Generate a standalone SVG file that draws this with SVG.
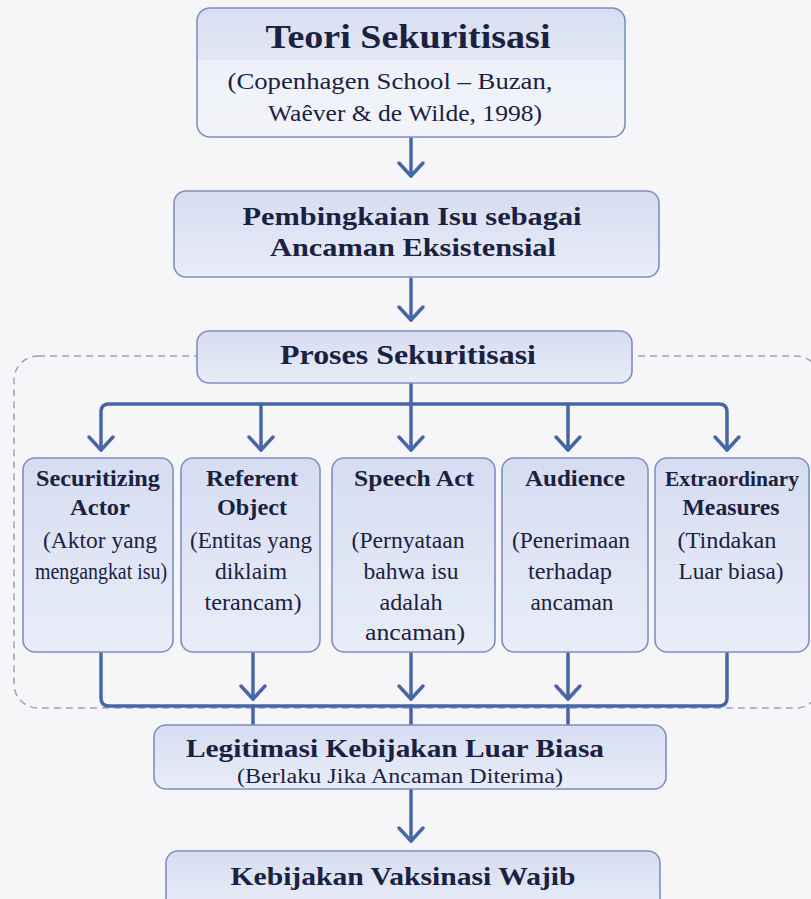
<svg xmlns="http://www.w3.org/2000/svg" width="811" height="899" viewBox="0 0 811 899">
<defs>
<linearGradient id="g" x1="0" y1="0" x2="0" y2="1">
<stop offset="0" stop-color="#d6ddf1"/>
<stop offset="1" stop-color="#e9edf8"/>
</linearGradient>
<linearGradient id="gt" x1="0" y1="0" x2="0" y2="1">
<stop offset="0" stop-color="#d8def1"/>
<stop offset="0.4" stop-color="#e2e7f5"/>
<stop offset="0.41" stop-color="#eff1f9"/>
<stop offset="1" stop-color="#f2f4fa"/>
</linearGradient>
<marker id="ah" markerUnits="userSpaceOnUse" markerWidth="30" markerHeight="30" refX="0" refY="0" orient="auto-start-reverse" overflow="visible">
<path d="M-13,-12 L0,0 L-13,12" fill="none" stroke="#4866a6" stroke-width="3.5" stroke-linecap="round" stroke-linejoin="round"/>
</marker>
<style>
.box{fill:url(#g);stroke:#7d8fc2;stroke-width:1.6}
.t{font-family:"Liberation Serif","Times New Roman",serif;fill:#1b2240;text-anchor:middle}
.b{font-weight:bold}
.s{font-size:24px}
.r{font-size:23px}
.c{fill:none;stroke:#4866a6;stroke-width:3.5;stroke-linecap:round;stroke-linejoin:round}
.a{marker-end:url(#ah)}
</style>
</defs>
<rect x="0" y="0" width="811" height="899" fill="#f6f6f9"/>
<rect id="container" x="14" y="356" width="806" height="352" rx="24" fill="none" stroke="#9aa2bd" stroke-width="1.5" stroke-dasharray="7 5"/>
<g id="connectors">
<path class="c a" d="M411,138 V176"/>
<path class="c a" d="M411,279 V320"/>
<path class="c" d="M411,384 V404"/>
<path class="c" d="M101,450 V412 Q101,404 109,404 H719 Q727,404 727,412 V450" style="marker-start:url(#ah);marker-end:url(#ah)"/>
<path class="c a" d="M261,404 V450"/>
<path class="c a" d="M411,404 V450"/>
<path class="c a" d="M568,404 V450"/>
<path class="c" d="M101,653 V698 Q101,706 109,706 H719 Q727,706 727,698 V653"/>
<path class="c a" d="M253,653 V699"/>
<path class="c a" d="M411,653 V699"/>
<path class="c a" d="M568,653 V699"/>
<path class="c" d="M253,706 V725 M411,706 V725 M568,706 V725"/>
<path class="c a" d="M411,790 V841"/>
</g>
<g id="teori">
<rect x="197" y="8" width="428" height="129" rx="13" fill="url(#gt)" stroke="#7d8fc2" stroke-width="1.6"/>
<text class="t b" x="408" y="48" font-size="33" textLength="285" lengthAdjust="spacingAndGlyphs">Teori Sekuritisasi</text>
<text class="t" x="390" y="89" font-size="23" textLength="325" lengthAdjust="spacingAndGlyphs">(Copenhagen School – Buzan,</text>
<text class="t" x="405" y="121" font-size="23" textLength="274" lengthAdjust="spacingAndGlyphs">Waêver &amp; de Wilde, 1998)</text>
</g>
<g id="pembingkaian">
<rect class="box" x="174" y="191" width="485" height="86" rx="12"/>
<text class="t b" x="412" y="225" font-size="25" textLength="339" lengthAdjust="spacingAndGlyphs">Pembingkaian Isu sebagai</text>
<text class="t b" x="413" y="256" font-size="25" textLength="286" lengthAdjust="spacingAndGlyphs">Ancaman Eksistensial</text>
</g>
<g id="proses">
<rect class="box" x="197" y="331" width="435" height="52" rx="12"/>
<text class="t b" x="408" y="364" font-size="27" textLength="256" lengthAdjust="spacingAndGlyphs">Proses Sekuritisasi</text>
</g>
<g id="actor">
<rect class="box" x="23" y="458" width="150" height="194" rx="12"/>
<text class="t b s" x="98" y="486" textLength="124" lengthAdjust="spacingAndGlyphs">Securitizing</text>
<text class="t b s" x="100" y="515" textLength="60" lengthAdjust="spacingAndGlyphs">Actor</text>
<text class="t r" x="100" y="548" textLength="114" lengthAdjust="spacingAndGlyphs">(Aktor yang</text>
<text class="t r" x="101" y="579" textLength="132" lengthAdjust="spacingAndGlyphs">mengangkat isu)</text>
</g>
<g id="referent">
<rect class="box" x="181" y="458" width="139" height="194" rx="12"/>
<text class="t b s" x="252" y="486" textLength="92" lengthAdjust="spacingAndGlyphs">Referent</text>
<text class="t b s" x="252" y="515" textLength="70" lengthAdjust="spacingAndGlyphs">Object</text>
<text class="t r" x="251" y="548" textLength="122" lengthAdjust="spacingAndGlyphs">(Entitas yang</text>
<text class="t r" x="251" y="579" textLength="72" lengthAdjust="spacingAndGlyphs">diklaim</text>
<text class="t r" x="253" y="610" textLength="97" lengthAdjust="spacingAndGlyphs">terancam)</text>
</g>
<g id="speech">
<rect class="box" x="332" y="458" width="163" height="194" rx="12"/>
<text class="t b s" x="414" y="486" textLength="120" lengthAdjust="spacingAndGlyphs">Speech Act</text>
<text class="t r" x="408" y="548" textLength="113" lengthAdjust="spacingAndGlyphs">(Pernyataan</text>
<text class="t r" x="411" y="579" textLength="95" lengthAdjust="spacingAndGlyphs">bahwa isu</text>
<text class="t r" x="411" y="610" textLength="63" lengthAdjust="spacingAndGlyphs">adalah</text>
<text class="t r" x="415" y="640" textLength="100" lengthAdjust="spacingAndGlyphs">ancaman)</text>
</g>
<g id="audience">
<rect class="box" x="502" y="458" width="146" height="194" rx="12"/>
<text class="t b s" x="575" y="486" textLength="100" lengthAdjust="spacingAndGlyphs">Audience</text>
<text class="t r" x="571" y="548" textLength="118" lengthAdjust="spacingAndGlyphs">(Penerimaan</text>
<text class="t r" x="570" y="579" textLength="84" lengthAdjust="spacingAndGlyphs">terhadap</text>
<text class="t r" x="572" y="610" textLength="83" lengthAdjust="spacingAndGlyphs">ancaman</text>
</g>
<g id="measures">
<rect class="box" x="655" y="458" width="154" height="194" rx="12"/>
<text class="t b" x="732" y="486" font-size="22" textLength="134" lengthAdjust="spacingAndGlyphs">Extraordinary</text>
<text class="t b s" x="731" y="515" textLength="97" lengthAdjust="spacingAndGlyphs">Measures</text>
<text class="t r" x="727" y="548" textLength="99" lengthAdjust="spacingAndGlyphs">(Tindakan</text>
<text class="t r" x="731" y="579" textLength="105" lengthAdjust="spacingAndGlyphs">Luar biasa)</text>
</g>
<g id="legitimasi">
<rect class="box" x="154" y="725" width="512" height="64" rx="12"/>
<text class="t b" x="395" y="757" font-size="26" textLength="418" lengthAdjust="spacingAndGlyphs">Legitimasi Kebijakan Luar Biasa</text>
<text class="t" x="400" y="783" font-size="20" textLength="326" lengthAdjust="spacingAndGlyphs">(Berlaku Jika Ancaman Diterima)</text>
</g>
<g id="vaksinasi">
<rect class="box" x="166" y="851" width="494" height="60" rx="12"/>
<text class="t b" x="403" y="885" font-size="26" textLength="345" lengthAdjust="spacingAndGlyphs">Kebijakan Vaksinasi Wajib</text>
</g>
</svg>
